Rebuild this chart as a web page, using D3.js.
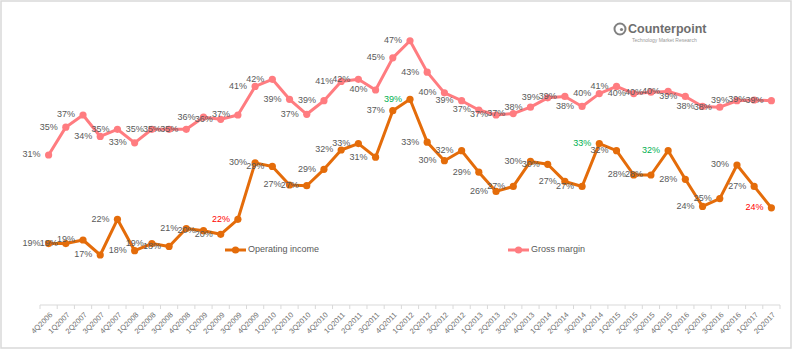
<!DOCTYPE html>
<html>
<head>
<meta charset="utf-8">
<script src="https://cdn.jsdelivr.net/npm/d3@7"></script>
<style>
  body { margin: 0; background: #fff; }
  svg { display: block; font-family: "Liberation Sans", Arial, sans-serif; }
</style>
</head>
<body>
<svg id="graph" width="795" height="350"></svg>
<script>
// quarters on the x axis
var quarters = ["4Q2006","1Q2007","2Q2007","3Q2007","4Q2007","1Q2008","2Q2008","3Q2008","4Q2008",
  "1Q2009","2Q2009","3Q2009","4Q2009","1Q2010","2Q2010","3Q2010","4Q2010","1Q2011","2Q2011","3Q2011",
  "4Q2011","1Q2012","2Q2012","3Q2012","4Q2012","1Q2013","2Q2013","3Q2013","4Q2013","1Q2014","2Q2014",
  "3Q2014","4Q2014","1Q2015","2Q2015","3Q2015","4Q2015","1Q2016","2Q2016","3Q2016","4Q2016","1Q2017","2Q2017"];

// % values
var operatingIncome = [18.6,18.6,19.1,17.0,22.0,17.6,18.6,18.2,20.7,20.4,19.9,22.0,29.9,29.4,26.8,26.7,29.0,
  31.7,32.6,30.7,37.2,38.8,32.8,30.2,31.6,28.6,25.9,26.6,30.1,29.7,27.3,26.6,32.6,31.6,28.2,28.2,31.6,
  27.6,23.8,24.9,29.6,26.6,23.6];
var grossMargin = [31.0,34.9,36.6,33.6,34.6,32.7,34.6,34.6,34.6,36.3,36.0,36.6,40.6,41.6,38.8,36.7,38.6,
  41.3,41.6,40.1,44.6,47.0,42.6,39.7,38.6,37.3,36.6,36.8,37.7,39.0,39.2,37.8,39.6,40.6,39.6,39.8,39.9,
  39.2,37.8,37.7,38.6,38.7,38.6];

// highlighted operating income labels
var greenQuarters = ["1Q2012","4Q2014","4Q2015"];
var redQuarters = ["3Q2009","2Q2017"];

var seriesNames = ["Operating income","Gross margin"];
var seriesColors = ["#E46C0A","#FF7C80"];

var svg = d3.select("#graph");

// outer frame
svg.append("rect")
  .attr("x", 1).attr("y", 1)
  .attr("width", 790).attr("height", 347)
  .attr("fill", "none")
  .attr("stroke", "#d9d9d9")
  .attr("stroke-width", 1.5);

var x = d3.scaleBand().domain(quarters).range([40, 780]);
var y = d3.scaleLinear().domain([10, 50]).range([305, 19.3]);

// category axis
var ax = svg.append("g").attr("transform", "translate(0,305)");
ax.append("line")
  .attr("x1", x.range()[0]).attr("x2", x.range()[1])
  .attr("stroke", "#d9d9d9").attr("stroke-width", 1);
ax.selectAll("line.tick")
  .data(quarters.concat(["end"]))
  .enter().append("line")
  .attr("class", "tick")
  .attr("x1", d => d == "end" ? x.range()[1] : x(d))
  .attr("x2", d => d == "end" ? x.range()[1] : x(d))
  .attr("y1", 0).attr("y2", 4)
  .attr("stroke", "#d9d9d9");
ax.selectAll("text")
  .data(quarters)
  .enter().append("text")
  .attr("transform", d => "translate(" + (x(d) + x.bandwidth() / 2 + 3) + ",9) rotate(-45)")
  .attr("text-anchor", "end")
  .attr("dominant-baseline", "middle")
  .attr("font-size", 7.5)
  .attr("fill", "#6f6f6f")
  .text(d => d);

var line = d3.line()
  .x((d, i) => x(quarters[i]) + x.bandwidth() / 2)
  .y(d => y(d));

var allSeries = [operatingIncome, grossMargin];

allSeries.forEach(function (vals, s) {
  var g = svg.append("g");
  g.append("path")
    .datum(vals)
    .attr("d", line)
    .attr("fill", "none")
    .attr("stroke", seriesColors[s])
    .attr("stroke-width", 3)
    .attr("stroke-linejoin", "round");
  g.selectAll("circle")
    .data(vals)
    .enter().append("circle")
    .attr("cx", (d, i) => x(quarters[i]) + x.bandwidth() / 2)
    .attr("cy", d => y(d))
    .attr("r", 3.6)
    .attr("fill", seriesColors[s]);
});

// data labels (left of each point)
allSeries.forEach(function (vals, s) {
  svg.append("g").selectAll("text")
    .data(vals)
    .enter().append("text")
    .attr("x", (d, i) => x(quarters[i]) + x.bandwidth() / 2 - 8)
    .attr("y", d => y(d))
    .attr("text-anchor", "end")
    .attr("dominant-baseline", "middle")
    .attr("font-size", 9)
    .attr("fill", function (d, i) {
      if (s == 0 && greenQuarters.indexOf(quarters[i]) >= 0) return "#00B050";
      if (s == 0 && redQuarters.indexOf(quarters[i]) >= 0) return "#FF0000";
      return "#595959";
    })
    .text(d => Math.round(d) + "%");
});

// legend
var legendX = [225, 508];
seriesNames.forEach(function (name, s) {
  var lg = svg.append("g").attr("transform", "translate(" + legendX[s] + ",250)");
  lg.append("line").attr("x1", 0).attr("x2", 21)
    .attr("stroke", seriesColors[s]).attr("stroke-width", 3);
  lg.append("circle").attr("cx", 10.5).attr("r", 3.6).attr("fill", seriesColors[s]);
  lg.append("text").attr("x", 23).attr("dominant-baseline", "middle")
    .attr("font-size", 9).attr("fill", "#595959").text(name);
});

// Counterpoint logo
var logo = svg.append("g").attr("transform", "translate(620,29)");
logo.append("circle").attr("r", 5.5).attr("fill", "none")
  .attr("stroke", "#808080").attr("stroke-width", 2);
logo.append("circle").attr("cx", 1.5).attr("cy", 0.5).attr("r", 1.6).attr("fill", "#808080");
logo.append("text").attr("x", 8).attr("y", 4)
  .attr("font-size", 12.5).attr("font-weight", "bold")
  .attr("fill", "#6e6e6e").text("Counterpoint");
logo.append("text").attr("x", 12).attr("y", 12.5)
  .attr("font-size", 5).attr("fill", "#9a9a9a")
  .text("Technology Market Research");
</script>
</body>
</html>
